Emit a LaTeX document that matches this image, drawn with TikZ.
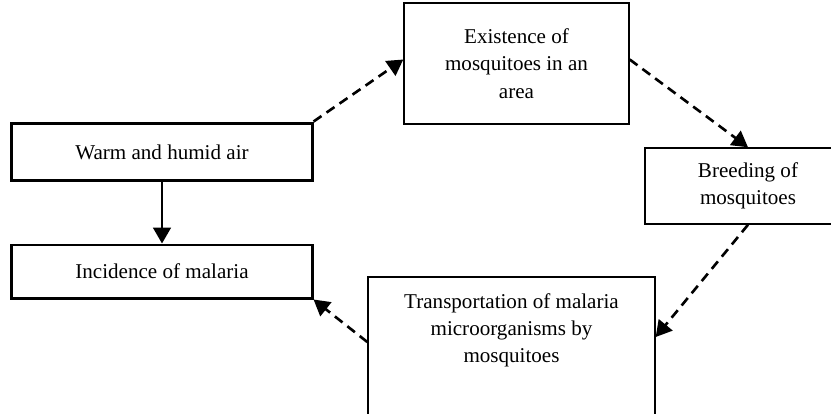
\documentclass[tikz,border=0pt]{standalone}
\usepackage{fontspec}
\setmainfont{Liberation Serif}
\usetikzlibrary{arrows.meta,calc}
\tikzset{
  factbox/.style={draw, line width=1.7pt, minimum width=170.9pt, align=center, inner sep=2pt},
  stagebox/.style={draw, line width=0.85pt, align=center, inner sep=2pt},
  dashedlink/.style={line width=1.5pt, dash pattern=on 5.5pt off 3.5pt, -{Triangle[length=9pt,width=10pt]}},
  solidlink/.style={line width=1.4pt, -{Triangle[length=9pt,width=10pt]}},
}

\begin{document}
\begin{tikzpicture}[x=0.5695pt, y=-0.5695pt, font=\fontsize{12}{15.5}\selectfont]
  \useasboundingbox (0,0) rectangle (831,413);
  \clip (0,0) rectangle (831,413);

  % left column
  \node[factbox, minimum height=33pt] (warm) at (162,152) {Warm and humid air};
  \node[factbox, minimum height=30.2pt] (incid) at (162,271.5) {Incidence of malaria};

  % mosquito cycle
  \node[stagebox, minimum width=128.1pt, minimum height=68.9pt] (exist) at (516.5,63.5)
    {Existence of\\ mosquitoes in an\\ area};
  \node[stagebox, minimum width=117.3pt, minimum height=43.3pt] (breed) at (748,186)
    {Breeding of\\ mosquitoes};
  \node[stagebox, anchor=north, inner xsep=0pt, inner ysep=9.5pt] (transp) at (511.5,276)
    {\parbox[t][80pt][t]{163.4pt}{\centering Transportation of malaria\\ microorganisms by\\ mosquitoes}};

  % links
  \draw[solidlink] (warm.south) -- (incid.north);
  \draw[dashedlink] (warm.north east) -- ($(exist.west)+(0,-4)$);
  \draw[dashedlink] ($(exist.east)+(0,-4)$) -- (breed.north);
  \draw[dashedlink] (breed.south) -- ($(transp.north east)+(0,61)$);
  \draw[dashedlink] ($(transp.north west)+(0,66)$) -- (incid.south east);
\end{tikzpicture}
\end{document}
